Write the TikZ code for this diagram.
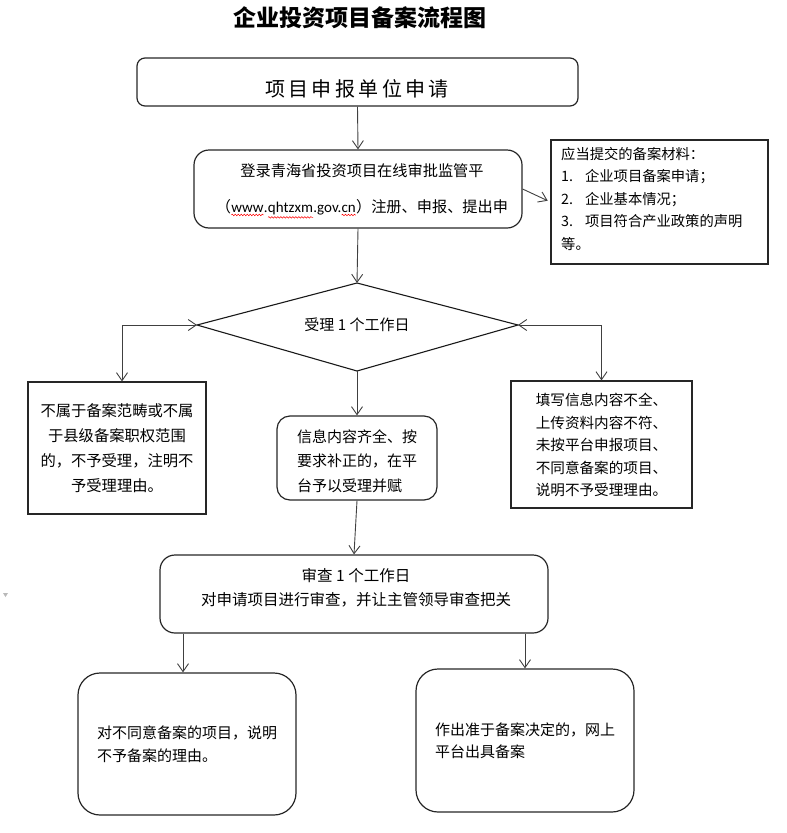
\documentclass[tikz,border=0pt]{standalone}
\usepackage{fontspec}
\setmainfont{Noto Sans CJK SC}
\newfontfamily\lat{Carlito}
\usetikzlibrary{arrows.meta,decorations.pathmorphing}
\newcommand\squig[1]{\tikz[baseline=(sq.base)]{\node[inner sep=0pt,outer sep=0pt](sq){#1};\draw[red,line width=0.5pt,decorate,decoration={snake,amplitude=0.8pt,segment length=3pt}]([yshift=-2.5pt]sq.south west)--([yshift=-2.5pt]sq.south east);}}
\begin{document}
\begin{tikzpicture}[x=1pt,y=-1pt,
 rbox/.style={draw=black!85,line width=1.2pt,rounded corners=#1,inner sep=0pt},
 rbox/.default=12pt,
 sbox/.style={draw=black!85,line width=1.1pt,inner sep=0pt},
 txt/.style={font=\fontsize{15}{24}\selectfont,align=center,inner sep=0pt},
 arr/.style={draw=black!75,line width=0.9pt,-{Straight Barb[length=8pt,width=11pt]}},
 darr/.style={draw=black!75,line width=0.9pt,{Straight Barb[length=8pt,width=11pt]}-{Straight Barb[length=8pt,width=11pt]}}]
\useasboundingbox (0,0) rectangle (787,833);

% title
\node[font=\fontsize{23}{26}\selectfont\bfseries,inner sep=0pt] (title) at (360,18) {企业投资项目备案流程图};

% top box
\node[rbox=8pt,minimum width=441pt,minimum height=48pt] (top) at (357.5,82) {};
\node[inner sep=0pt,font=\fontsize{20}{24}\selectfont\addfontfeature{LetterSpace=17}] (toptxt) at (357,89) {项目申报单位申请};

% box 2
\node[rbox=15pt,minimum width=328pt,minimum height=78pt] (b2) at (358,189) {};
\node[txt,font=\fontsize{15.2}{36}\selectfont] (b2txt) at (362,191) {登录青海省投资项目在线审批监管平\\（{\lat\fontsize{15}{36}\selectfont\squig{www}.\squig{qhtzxm}.gov.\squig{cn}}）注册、申报、提出申};

% materials box
\node[sbox,minimum width=217pt,minimum height=124pt] (mat) at (659.5,202) {};
\node[txt,align=left,anchor=north west,font=\fontsize{14.3}{22.5}\selectfont] (mattxt) at (561,147) {应当提交的备案材料：\\1.\hspace{12pt}企业项目备案申请；\\2.\hspace{12pt}企业基本情况；\\3.\hspace{12pt}项目符合产业政策的声明\\等。};

% diamond
\coordinate (dt) at (357,283);
\coordinate (dr) at (518,325);
\coordinate (db) at (357,371);
\coordinate (dl) at (197,325);
\draw[line width=1.1pt,black!90] (dt) -- (dr) -- (db) -- (dl) -- cycle;
\node[txt] (dtxt) at (357,325) {受理 1 个工作日};

% left box
\node[sbox,minimum width=178pt,minimum height=132pt] (lb) at (117,448) {};
\node[txt,font=\fontsize{15.3}{25}\selectfont] (lbtxt) at (117,448) {不属于备案范畴或不属\\于县级备案职权范围\\的，不予受理，注明不\\予受理理由。};

% middle box
\node[rbox=13pt,minimum width=160pt,minimum height=84pt] (mb) at (357,458) {};
\node[txt,align=left,font=\fontsize{15}{24.5}\selectfont] (mbtxt) at (357,461) {信息内容齐全、按\\要求补正的，在平\\台予以受理并赋};

% right box
\node[sbox,minimum width=181pt,minimum height=127pt] (rb) at (601.5,444.5) {};
\node[txt,font=\fontsize{14.6}{22.5}\selectfont] (rbtxt) at (601.5,445) {填写信息内容不全、\\上传资料内容不符、\\未按平台申报项目、\\不同意备案的项目、\\说明不予受理理由。};

% review box
\node[rbox=15pt,minimum width=388pt,minimum height=78pt] (rv) at (354,594) {};
\node[txt,font=\fontsize{15.5}{24}\selectfont] (rvtxt) at (356,588) {审查 1 个工作日\\对申请项目进行审查，并让主管领导审查把关};

% bottom boxes
\node[rbox=22pt,minimum width=218pt,minimum height=142pt] (bl) at (187,744) {};
\node[txt,align=left,font=\fontsize{15}{23}\selectfont] (bltxt) at (187,744) {对不同意备案的项目，说明\\不予备案的理由。};
\node[rbox=22pt,minimum width=218pt,minimum height=143pt] (br) at (525,740.5) {};
\node[txt,align=left,font=\fontsize{15}{22}\selectfont] (brtxt) at (525,741) {作出准于备案决定的，网上\\平台出具备案};

% connectors
\draw[arr] (top.south) -- (b2.north);
\draw[arr,shorten >=3pt] (b2.east) -- (mat.west);
\draw[arr] (b2.south) -- (dt);
\draw[darr] (dl) -| ([xshift=5pt]lb.north);
\draw[darr] (dr) -| (rb.north);
\draw[arr] (db) -- (mb.north);
\draw[arr] (mb.south) -- (rv.south |- rv.north);
\draw[arr] ([xshift=-4pt]bl.north |- rv.south) -- ([xshift=-4pt]bl.north);
\draw[arr] (br.north |- rv.south) -- (br.north);

% small mark
\fill[gray!55] (3,593) -- (8,593) -- (5.5,597) -- cycle;
\end{tikzpicture}
\end{document}
